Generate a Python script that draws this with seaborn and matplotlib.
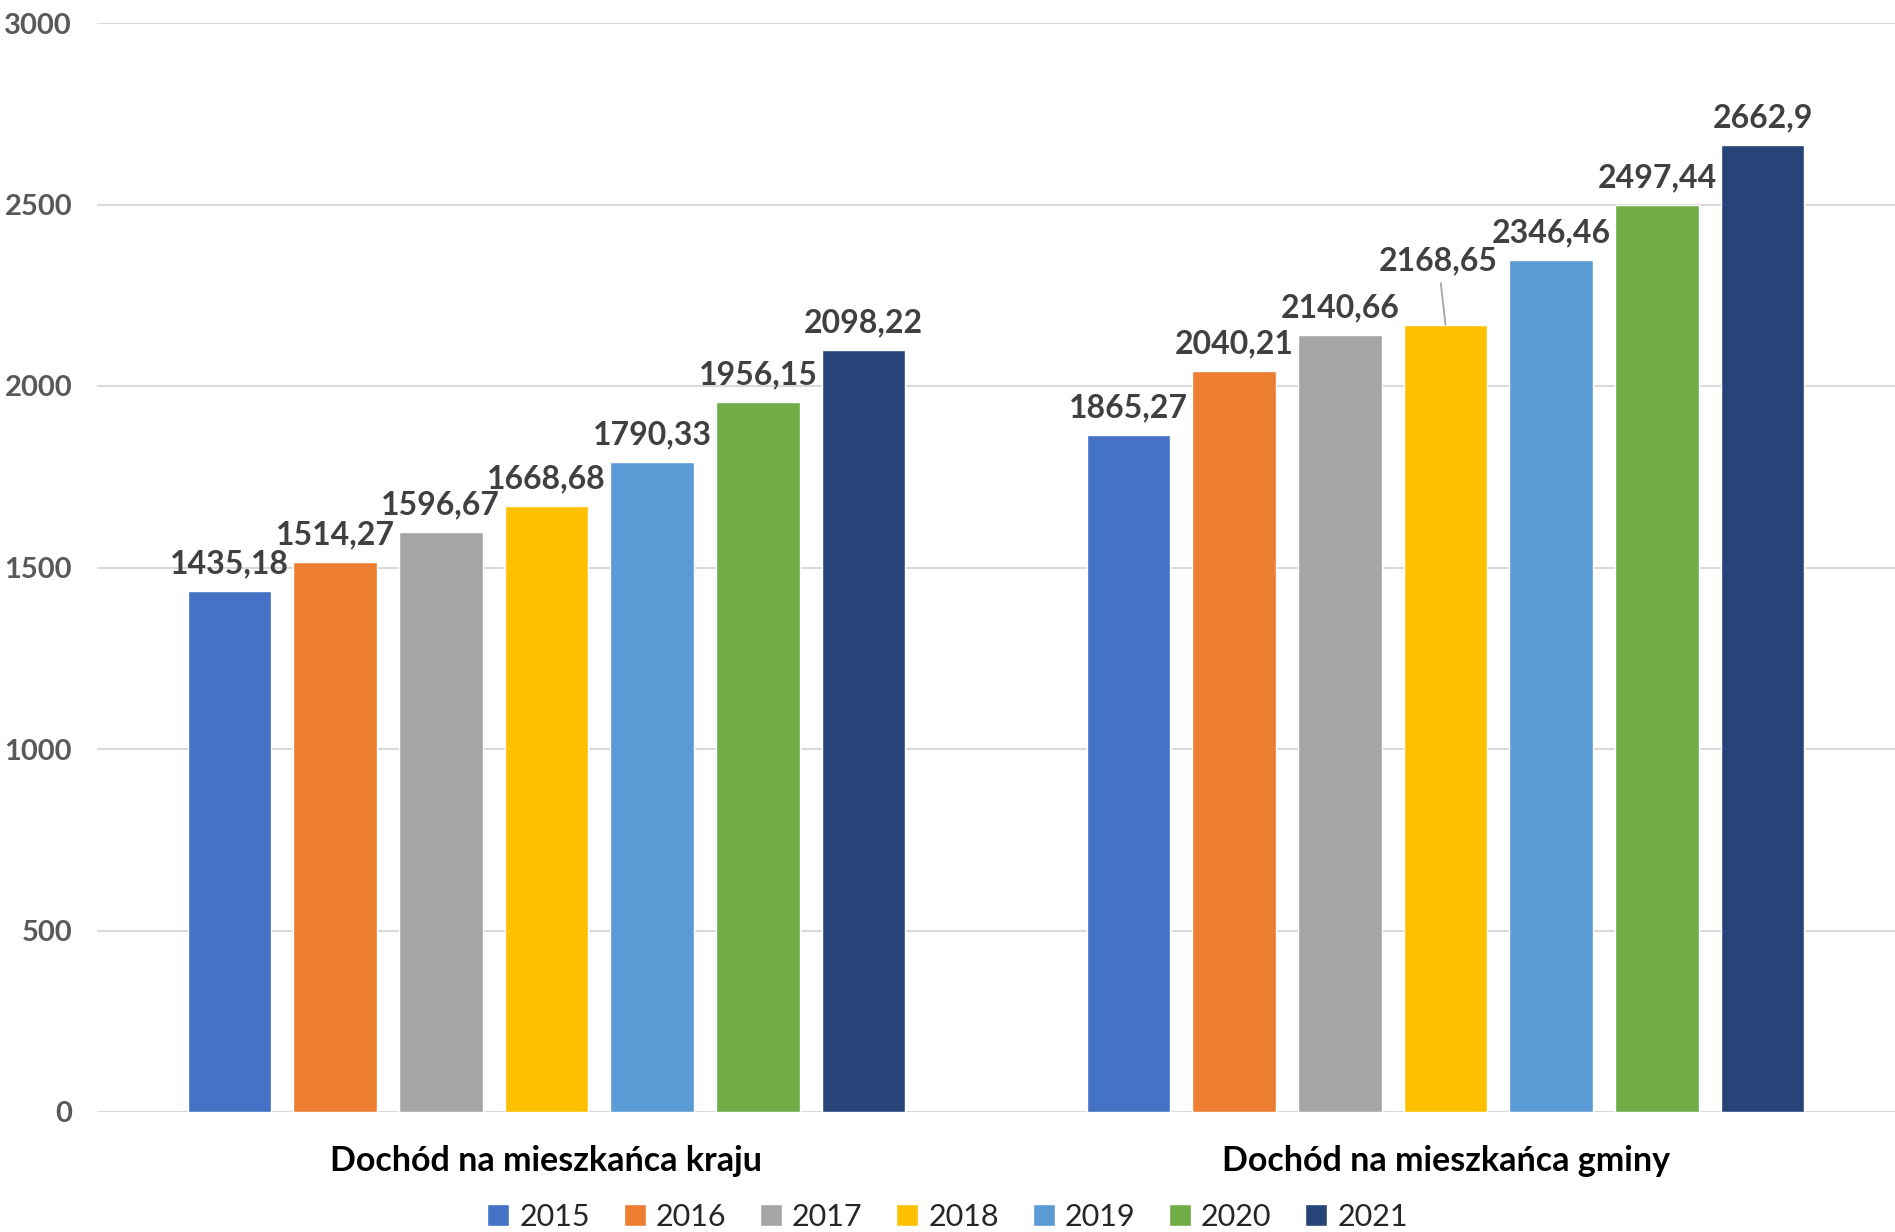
import pandas as pd
import matplotlib
matplotlib.use("Agg")
import matplotlib.pyplot as plt
import seaborn as sns

categories = ["Dochód na mieszkańca kraju", "Dochód na mieszkańca gminy"]
years = ["2015", "2016", "2017", "2018", "2019", "2020", "2021"]
kraj = [1435.18, 1514.27, 1596.67, 1668.68, 1790.33, 1956.15, 2098.22]
gmina = [1865.27, 2040.21, 2140.66, 2168.65, 2346.46, 2497.44, 2662.9]
colors = ["#4472C4", "#ED7D31", "#A5A5A5", "#FFC000", "#5B9BD5", "#70AD47", "#264478"]

rows = []
for cat, vals in zip(categories, [kraj, gmina]):
    for y, v in zip(years, vals):
        rows.append({"kategoria": cat, "rok": y, "dochod": v})
df = pd.DataFrame(rows)

sns.set_style("white")
plt.rcParams["font.family"] = ["Lato", "DejaVu Sans"]

fig = plt.figure(figsize=(18.95, 12.32), dpi=100)
ax = fig.add_axes([97 / 1895, 120 / 1232, 1 - 97 / 1895, 1089 / 1232])

sns.barplot(data=df, x="kategoria", y="dochod", hue="rok", palette=colors,
            width=0.823, gap=0.21, saturation=1, ax=ax, errorbar=None)

# etykiety wartosci
for i, cont in enumerate(ax.containers):
    for j, bar in enumerate(cont):
        val = bar.get_height()
        txt = str(val).replace(".", ",")
        xc = bar.get_x() + bar.get_width() / 2
        if j == 1 and i == 3:
            # etykieta przesunieta w gore z linia odniesienia
            ax.annotate(txt, xy=(xc, val), xytext=(xc - 0.008, val + 135),
                        ha="center", va="bottom", fontsize=23, fontweight="bold",
                        color="#404040",
                        arrowprops=dict(arrowstyle="-", color="#A6A6A6", lw=1.3,
                                        shrinkA=3, shrinkB=0))
        else:
            ax.text(xc, val + 35, txt, ha="center", va="bottom", fontsize=23,
                    fontweight="bold", color="#404040")

ax.set_ylim(0, 3000)
ax.set_xlim(-0.5, 1.5)
ax.set_yticks(range(0, 3001, 500))
ax.yaxis.grid(True, color="#D9D9D9", lw=1.5)
ax.set_axisbelow(True)
for s in ax.spines.values():
    s.set_visible(False)
ax.tick_params(axis="y", length=0, pad=18, labelsize=21, labelcolor="#595959")
ax.tick_params(axis="x", length=0, pad=24, labelsize=24.5)
for t in ax.get_yticklabels():
    t.set_fontweight("bold")
for t in ax.get_xticklabels():
    t.set_fontweight("bold")
    t.set_color("black")
ax.set_xlabel("")
ax.set_ylabel("")

ax.legend(loc="center", bbox_to_anchor=(0.5, 15 / 1232), bbox_transform=fig.transFigure,
          ncol=7, frameon=False, handlelength=0.72, handleheight=0.72,
          handletextpad=0.33, columnspacing=1.1, fontsize=22)

fig.savefig("out.png", dpi=100)
